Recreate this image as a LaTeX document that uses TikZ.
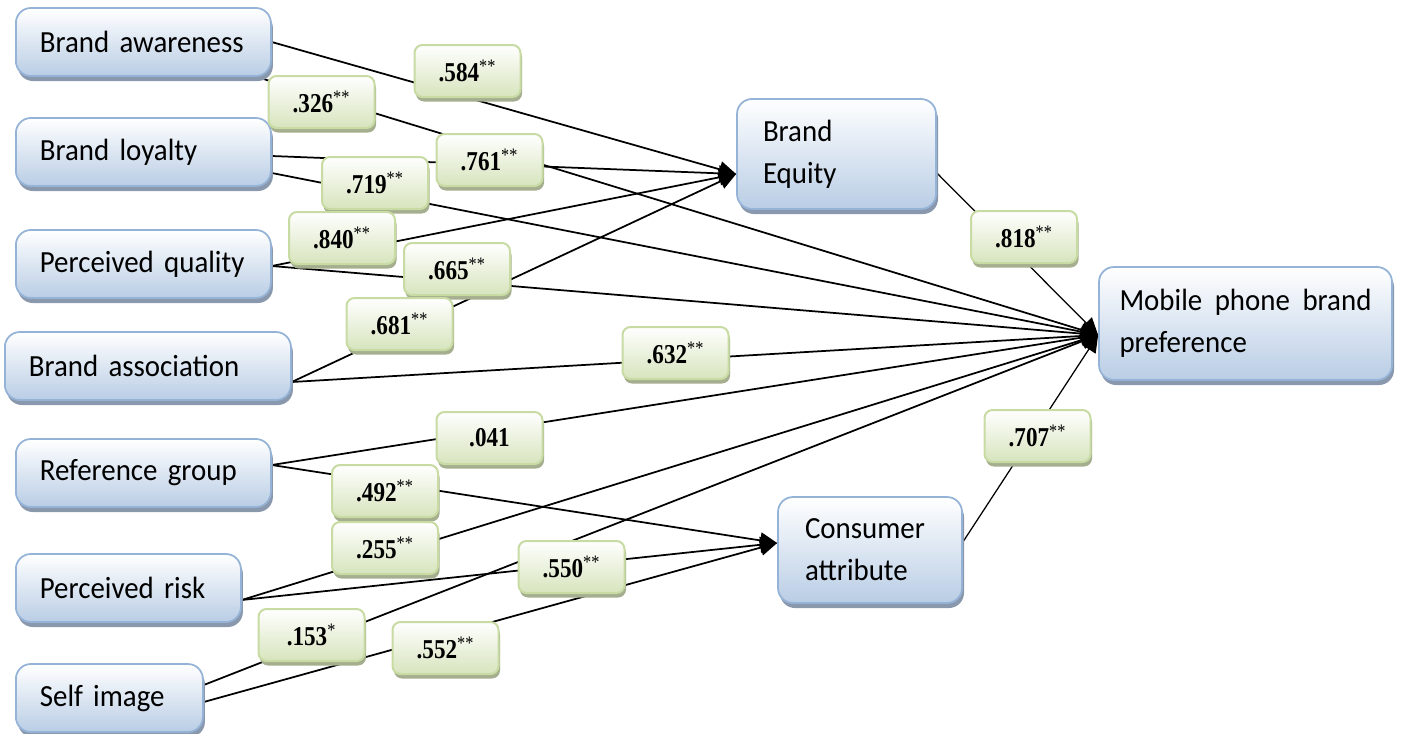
\documentclass[tikz,border=0pt]{standalone}
\usepackage{fontspec}
\setmainfont{Carlito}[FakeStretch=0.94, WordSpace=0.8]
\newfontfamily\coeffont{Liberation Serif}[FakeStretch=0.85]
\usetikzlibrary{arrows.meta,calc,shadows}
\pgfdeclarelayer{bg}
\pgfsetlayers{bg,main}
\definecolor{boxline}{HTML}{95B3D7}
\definecolor{boxfill}{HTML}{B9CDE5}
\definecolor{boxshade}{HTML}{8A98AE}
\definecolor{coefline}{HTML}{C8DBA3}
\definecolor{coeffill}{HTML}{D7E4BD}
\definecolor{coefshade}{HTML}{A5AE8F}
\newcommand{\sig}[1]{\textsuperscript{\mdseries#1}}
\hyphenpenalty=10000
\exhyphenpenalty=10000

\begin{document}
\begin{tikzpicture}[x=0.2mm, y=-0.2mm,
	box/.style={draw=boxline, line width=0.35mm, rounded corners=3mm,
		top color=white, bottom color=boxfill,
		drop shadow={shadow xshift=0.4mm, shadow yshift=-1mm, fill=boxshade, opacity=1},
		minimum height=13.6mm, inner xsep=4.8mm, align=left,
		font=\fontsize{17.5}{23.8}\selectfont},
	coef/.style={draw=coefline, line width=0.4mm, rounded corners=1.6mm,
		top color=white, bottom color=coeffill,
		drop shadow={shadow xshift=0.3mm, shadow yshift=-0.9mm, fill=coefshade, opacity=1},
		minimum width=21.2mm, minimum height=10.4mm,
		font=\coeffont\bfseries\fontsize{15.5}{17}\selectfont},
	l_1/.style={line width=0.35mm, -{Triangle[length=3.4mm, width=3.2mm]}},
	l_2/.style={line width=0.25mm, -{Triangle[length=3.4mm, width=3.2mm]}}]
	\useasboundingbox (0,0) rectangle (1410,734);
	% dimensions of the model
	\foreach \n/\t/\x/\y/\tw in {aware/Brand awareness/15/42/41.4,
		loyal/Brand loyalty/15/152/41.4, quality/Perceived quality/15/264/41.4,
		assoc/Brand association/4/366/47.6, refgrp/Reference group/15/473/41.4,
		risk/Perceived risk/15/588/35.4, self/Self image/15/698/27.8} {
		\node[box, anchor=west, text width=\tw mm] (\n) at (\x,\y) {\t};
	};
	% mediators and outcome
	\node[box, minimum height=22mm, text width=29.4mm, inner xsep=5.2mm] (equity) at (836.5,154) {Brand\\Equity};
	\node[box, minimum height=22.6mm, text width=50.4mm, inner xsep=4.1mm] (mobile) at (1245.5,323.5) {Mobile\hfill phone\hfill brand\\preference};
	\node[box, minimum height=21.2mm, text width=26mm, inner xsep=5.4mm] (consumer) at (870,550) {Consumer\\attribute};
	% coefficients
	\foreach \n/\v/\x/\y in {c584/.584\sig{**}/467.5/71, c326/.326\sig{**}/321.5/102,
		c761/.761\sig{**}/489.5/160, c719/.719\sig{**}/375/183,
		c840/.840\sig{**}/342/238, c665/.665\sig{**}/457/269,
		c681/.681\sig{**}/399.5/324, c632/.632\sig{**}/675.5/353,
		c041/.041/489.5/438, c492/.492\sig{**}/385/491,
		c255/.255\sig{**}/385/548, c550/.550\sig{**}/571.5/567,
		c153/.153\sig{*}/311.5/635, c552/.552\sig{**}/445.5/648,
		c818/.818\sig{**}/1024/237, c707/.707\sig{**}/1037.5/436} {
		\node[coef] (\n) at (\x,\y) {\v};
	};
	\begin{pgfonlayer}{bg}
		\coordinate (eqin) at ($(equity.west)+(0,20)$);
		\coordinate (mpin) at ($(mobile.west)+(0,11.5)$);
		\coordinate (cain) at ($(consumer.west)+(0,-7)$);
		\draw[l_1] (aware.east) -- (eqin);
		\draw[l_1] ($(aware.south east)+(-12,1)$) -- (mpin);
		\draw[l_1] ($(loyal.east)+(0,4)$) -- (eqin);
		\draw[l_1] ($(loyal.east)+(0,21)$) -- (mpin);
		\draw[l_1] ($(quality.east)+(0,2)$) -- (eqin);
		\draw[l_1] ($(quality.east)+(0,2)$) -- (mpin);
		\draw[l_1] ($(assoc.east)+(0,16)$) -- (eqin);
		\draw[l_1] ($(assoc.east)+(0,16)$) -- (mpin);
		\draw[l_1] ($(refgrp.east)+(0,-8)$) -- (mpin);
		\draw[l_1] ($(refgrp.east)+(0,-8)$) -- (cain);
		\draw[l_1] ($(risk.east)+(0,12)$) -- (mpin);
		\draw[l_1] ($(risk.east)+(0,12)$) -- (cain);
		\draw[l_1] ($(self.east)+(0,-13)$) -- (mpin);
		\draw[l_1] ($(self.east)+(0,4)$) -- (cain);
		\draw[l_2] ($(equity.east)+(0,19)$) -- (mpin);
		\draw[l_2] ($(consumer.east)+(0,-8)$) -- (mpin);
	\end{pgfonlayer}
\end{tikzpicture}
\end{document}
